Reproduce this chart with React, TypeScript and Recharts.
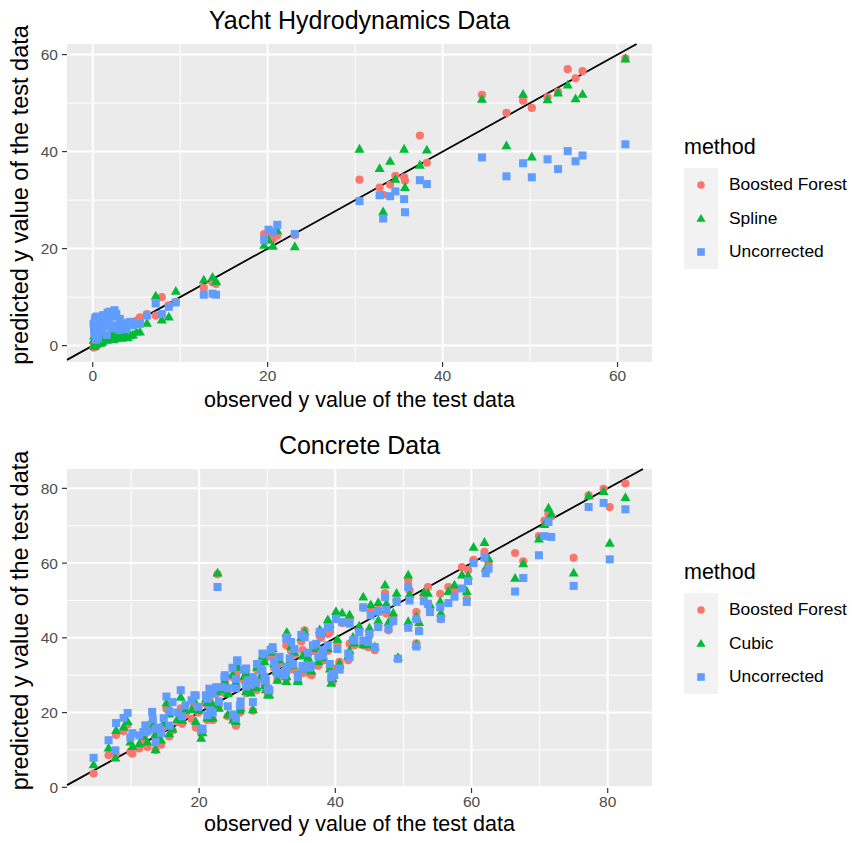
import React from "react";
import { ScatterChart, Scatter, XAxis, YAxis, CartesianGrid, ReferenceLine, Label } from "recharts";

const FONT = '"Liberation Sans", Arial, Helvetica, sans-serif';
const RED = "#F8766D";
const GREEN = "#00BA38";
const BLUE = "#619CFF";

// ---- Yacht hydrodynamics: observed value of each test row, then the three predictions
const yachtObs = [
  0.1, 0.2, 0.3, 0.4, 0.5, 0.6, 0.8, 1.0, 1.1, 1.3,
  1.5, 1.7, 2.0, 2.2, 2.5, 2.8, 3.0, 3.3, 3.6, 4.0,
  4.3, 4.6, 5.0, 5.4, 6.2, 7.2, 7.9, 8.7, 9.5, 12.7,
  13.7, 14.1, 19.6, 20.1, 20.6, 21.1, 23.1, 30.5, 32.8, 33.2,
  34.0, 34.6, 35.6, 35.7, 37.4, 38.2, 44.5, 47.3, 49.2, 50.2,
  52.0, 53.2, 54.3, 55.2, 56.0, 60.9, 0.15, 0.25, 0.35, 0.7,
  0.9, 1.2, 1.6, 1.9, 2.4, 2.7, 3.1, 3.8,
];
const yachtBoosted = [
  -0.4, 0.0, 0.3, -0.2, 0.6, 0.5, 1.0, 0.8, 1.3, 1.5,
  1.6, 2.0, 2.1, 2.4, 2.6, 2.9, 3.2, 3.3, 3.8, 4.0,
  4.4, 4.8, 5.1, 5.8, 6.5, 6.2, 10.0, 8.3, 9.0, 11.9,
  13.0, 12.7, 23.0, 22.5, 22.0, 22.7, 22.8, 34.2, 32.6, 31.1,
  33.2, 35.0, 34.7, 34.0, 43.3, 37.7, 51.7, 48.0, 50.5, 49.0,
  51.2, 52.3, 57.0, 55.1, 56.6, 59.2, 0.2, 0.1, 0.5, 0.9,
  0.7, 1.4, 1.9, 2.2, 2.3, 3.0, 3.4, 3.6,
];
const yachtSpline = [
  1.0, -0.3, 0.5, 0.2, 0.8, 0.4, 0.9, 1.2, 0.6, 1.5,
  5.5, 1.2, 1.6, 1.8, 2.0, 1.4, 1.7, 1.4, 2.3, 1.5,
  2.0, 2.1, 2.7, 2.7, 4.5, 10.1, 5.2, 5.8, 11.1, 13.4,
  14.0, 13.1, 20.6, 21.6, 20.4, 23.6, 20.3, 40.4, 36.4, 27.5,
  37.9, 34.2, 40.4, 32.5, 37.1, 40.2, 50.7, 41.1, 51.7, 38.8,
  50.6, 52.0, 53.6, 50.8, 51.7, 59.0, 1.9, 0.3, 0.1, 0.6,
  0.4, 0.9, 1.0, 1.3, 1.1, 1.7, 2.2, 1.9,
];
const yachtUncorrected = [
  4.5, 2.5, 5.8, 3.5, 6.0, 1.5, 4.8, 5.5, 3.0, 4.0,
  5.2, 6.8, 7.0, 3.6, 7.3, 4.2, 3.2, 4.5, 3.8, 4.7,
  4.9, 4.2, 4.5, 4.5, 6.2, 8.7, 6.5, 8.0, 8.9, 10.5,
  10.7, 10.5, 21.8, 23.9, 23.4, 24.9, 23.0, 29.8, 31.0, 26.2,
  30.8, 31.8, 30.2, 27.5, 34.1, 33.3, 38.8, 34.9, 37.6, 34.7,
  38.4, 36.4, 40.1, 38.0, 39.2, 41.5, 3.0, 5.2, 1.2, 3.8,
  5.9, 6.3, 2.2, 5.0, 6.0, 6.5, 5.5, 3.4,
];

// ---- Concrete: observed value of each test row, then the three predictions
const concreteObs = [
  4.5, 6.7, 7.7, 7.8, 8.9, 9.5, 9.9, 10.2, 11.2, 12.1,
  12.4, 13.1, 13.2, 13.6, 13.6, 14.1, 14.4, 15.2, 15.6, 15.6,
  16.1, 17.3, 17.5, 18.9, 19.3, 19.5, 20.3, 21.0, 21.2, 21.6,
  22.7, 22.0, 23.7, 24.2, 24.9, 25.4, 25.4, 25.6, 26.0, 26.6,
  27.1, 27.6, 27.9, 29.1, 29.6, 29.6, 30.1, 30.8, 31.5, 31.8,
  32.5, 32.8, 32.8, 33.5, 34.5, 35.2, 35.5, 36.5, 37.2, 37.7,
  38.2, 38.9, 38.9, 39.2, 39.4, 39.8, 40.1, 40.6, 40.6, 41.0,
  42.1, 42.1, 42.8, 44.1, 44.1, 44.8, 45.2, 45.8, 46.3, 46.3,
  47.3, 47.5, 47.8, 49.0, 49.2, 50.7, 50.7, 50.9, 51.9, 51.9,
  52.3, 53.6, 53.9, 55.4, 55.5, 56.6, 58.6, 59.3, 59.5, 60.3,
  61.9, 62.5, 62.1, 66.4, 67.6, 69.9, 70.7, 71.3, 71.7, 75.0,
  77.2, 79.4, 80.3, 82.6, 29.3, 30.5, 32.9, 35.0, 36.7, 37.9,
  39.2, 36.2, 32.8, 34.5, 30.3, 29.8, 26.9, 27.9, 25.6, 23.8,
  25.4, 25.0, 26.1, 26.9, 21.5, 22.5, 23.4, 20.5, 22.0, 19.9,
  22.9, 21.2, 24.2, 28.4, 29.3, 31.3, 35.2, 38.2, 39.6, 41.9,
  42.6, 33.3, 34.0, 36.0, 31.0, 28.5, 33.8, 37.5, 16.8, 18.0,
  11.8, 14.8, 43.5, 45.0, 48.5, 53.0, 57.5, 40.3,
];
const concreteBoosted = [
  3.7, 8.6, 8.8, 14.0, 15.0, 16.8, 9.5, 9.0, 10.4, 14.5,
  10.8, 17.0, 15.5, 10.0, 13.5, 14.5, 11.4, 21.0, 20.6, 13.6,
  15.2, 21.1, 17.0, 18.3, 22.0, 16.0, 14.5, 22.5, 18.0, 19.5,
  57.0, 21.5, 27.5, 19.0, 29.5, 16.5, 29.1, 31.5, 20.0, 28.5,
  26.0, 26.8, 20.5, 29.0, 34.0, 27.5, 25.0, 35.5, 28.8, 33.0,
  31.0, 38.0, 29.0, 36.5, 30.5, 36.7, 42.0, 30.0, 37.0, 40.5,
  34.0, 41.0, 36.5, 32.2, 28.8, 31.8, 45.0, 33.3, 33.6, 44.0,
  45.0, 38.4, 38.0, 48.0, 38.0, 37.5, 47.0, 36.7, 47.5, 43.0,
  52.0, 46.5, 42.0, 50.0, 34.5, 55.5, 43.0, 52.7, 38.5, 46.9,
  42.0, 53.6, 47.0, 51.8, 45.0, 53.6, 58.9, 50.5, 58.1, 60.9,
  63.0, 59.9, 58.0, 62.7, 60.5, 67.2, 71.4, 73.2, 72.5, 61.4,
  78.1, 79.9, 75.0, 81.3, 33.5, 35.0, 39.0, 39.0, 36.5, 40.0,
  41.5, 30.4, 31.0, 29.5, 25.5, 27.0, 30.0, 28.0, 31.0, 28.5,
  26.8, 18.0, 21.5, 25.2, 24.0, 25.0, 25.5, 15.0, 18.0, 20.0,
  21.9, 22.0, 25.1, 26.0, 30.0, 30.5, 30.6, 34.0, 28.2, 34.0,
  38.5, 33.0, 35.5, 34.0, 32.0, 31.5, 31.5, 32.5, 17.5, 19.5,
  12.5, 16.0, 42.0, 41.0, 45.0, 50.5, 52.5, 38.5,
];
const concreteCubic = [
  5.9, 10.4, 7.7, 15.1, 16.0, 17.5, 12.0, 10.8, 11.5, 15.2,
  12.0, 18.0, 16.3, 9.9, 14.0, 14.8, 12.5, 22.4, 19.5, 14.2,
  15.5, 24.0, 17.8, 20.6, 23.0, 17.5, 13.0, 23.5, 18.4, 18.4,
  57.2, 22.0, 28.0, 19.3, 30.0, 17.5, 28.0, 32.0, 20.5, 29.5,
  27.0, 25.1, 20.6, 29.5, 33.5, 27.0, 24.6, 37.0, 28.5, 34.0,
  30.5, 41.1, 28.2, 37.5, 28.2, 35.0, 41.5, 31.0, 37.5, 42.0,
  34.5, 44.7, 37.0, 31.5, 27.7, 30.0, 46.9, 32.5, 33.0, 46.5,
  46.0, 36.5, 38.5, 50.8, 38.0, 38.0, 48.7, 37.5, 49.3, 44.5,
  54.0, 49.0, 44.0, 51.8, 34.6, 56.7, 44.2, 51.5, 38.0, 45.5,
  44.0, 51.8, 48.7, 49.6, 46.5, 52.3, 56.7, 52.3, 56.5, 64.1,
  65.4, 61.0, 58.5, 55.8, 59.7, 66.3, 70.2, 74.6, 73.0, 57.2,
  77.8, 79.0, 65.2, 77.4, 35.0, 36.0, 41.3, 40.0, 37.0, 41.5,
  43.5, 31.5, 29.5, 28.6, 24.6, 26.0, 30.5, 28.5, 32.5, 28.0,
  27.5, 17.9, 21.1, 25.5, 25.1, 25.5, 26.0, 14.5, 18.4, 20.5,
  21.0, 22.5, 25.0, 26.5, 30.5, 31.0, 31.5, 35.0, 29.0, 35.0,
  40.0, 33.5, 36.0, 34.5, 33.0, 32.0, 32.5, 33.5, 18.0, 20.5,
  13.5, 17.0, 43.0, 42.5, 46.5, 52.0, 54.0, 39.5,
];
const concreteUncorrected = [
  7.9, 12.6, 9.9, 17.2, 18.6, 19.9, 13.3, 14.5, 13.9, 16.6,
  15.0, 20.2, 18.2, 12.1, 15.7, 16.0, 14.5, 24.3, 20.3, 16.5,
  22.8, 26.0, 19.0, 23.3, 24.6, 24.6, 15.4, 24.6, 19.3, 20.6,
  53.6, 25.1, 29.5, 21.7, 32.0, 18.5, 26.5, 33.8, 21.9, 31.5,
  28.6, 27.5, 22.8, 31.3, 35.6, 29.5, 26.4, 37.5, 30.5, 34.9,
  30.0, 39.8, 31.0, 38.9, 29.5, 31.8, 40.2, 32.6, 38.4, 41.6,
  35.3, 42.9, 38.0, 33.0, 29.5, 30.0, 45.1, 31.5, 31.8, 44.2,
  43.8, 34.9, 39.5, 48.2, 39.3, 38.9, 46.0, 37.5, 47.0, 42.9,
  50.9, 47.5, 42.5, 49.6, 34.4, 53.6, 42.7, 50.0, 37.7, 45.0,
  41.8, 49.1, 46.9, 48.2, 45.1, 49.3, 53.2, 49.6, 55.2, 60.0,
  61.5, 58.5, 57.3, 52.4, 56.0, 62.1, 67.2, 71.0, 67.0, 53.9,
  75.0, 76.1, 61.0, 74.4, 35.8, 36.8, 40.2, 40.8, 38.0, 41.1,
  42.9, 32.0, 32.2, 30.0, 26.0, 28.6, 31.8, 29.5, 34.0, 30.0,
  29.0, 19.5, 23.0, 27.0, 26.4, 26.8, 26.8, 15.7, 20.0, 21.5,
  23.0, 23.7, 26.5, 28.0, 31.3, 31.8, 32.5, 36.7, 30.4, 35.8,
  39.3, 34.5, 37.0, 36.0, 33.5, 33.0, 33.0, 35.0, 20.0, 22.0,
  14.8, 18.5, 41.5, 41.0, 44.5, 49.8, 51.0, 37.0,
];

const yachtXTicks = [0, 20, 40, 60];
const yachtYTicks = [0, 20, 40, 60];
const yachtMinor = [10, 30, 50];
const concreteXTicks = [20, 40, 60, 80];
const concreteYTicks = [0, 20, 40, 60, 80];
const concreteMinor = [10, 30, 50, 70];

// ggplot-style 5% expansion
function expand(vals: number[]): [number, number] {
  const lo = Math.min(...vals);
  const hi = Math.max(...vals);
  const pad = (hi - lo) * 0.05;
  return [lo - pad, hi + pad];
}

const CircleDot = (p: any) => <circle cx={p.cx} cy={p.cy} r={4.1} fill={RED} />;
const TriangleDot = (p: any) => {
  const { cx, cy } = p;
  return (
    <polygon
      points={`${cx},${cy - 5.8} ${cx - 5},${cy + 3} ${cx + 5},${cy + 3}`}
      fill={GREEN}
    />
  );
};
const SquareDot = (p: any) => <rect x={p.cx - 4} y={p.cy - 4} width={8} height={8} fill={BLUE} />;

const tickStyle = { fill: "#4D4D4D", fontSize: 15.5, fontFamily: FONT };

function LegendBox({ top, second }: { top: number; second: string }) {
  const rows = [
    { label: "Boosted Forest", shape: "circle" },
    { label: second, shape: "triangle" },
    { label: "Uncorrected", shape: "square" },
  ];
  return (
    <div style={{ position: "absolute", left: 684, top, fontFamily: FONT }}>
      <div style={{ fontSize: 21.5, height: 36, lineHeight: "30px", color: "#000" }}>method</div>
      {rows.map((r) => (
        <div key={r.label} style={{ display: "flex", alignItems: "center", height: 33.5 }}>
          <svg width={34} height={33.5} style={{ background: "#F2F2F2", display: "block" }}>
            {r.shape === "circle" && <circle cx={17} cy={17} r={3.8} fill={RED} />}
            {r.shape === "triangle" && <polygon points="17,12 12.4,19.8 21.6,19.8" fill={GREEN} />}
            {r.shape === "square" && <rect x={13.2} y={13.2} width={7.6} height={7.6} fill={BLUE} />}
          </svg>
          <span style={{ marginLeft: 11, fontSize: 17.4, color: "#000" }}>{r.label}</span>
        </div>
      ))}
    </div>
  );
}

interface PanelProps {
  title: string;
  obs: number[];
  boosted: number[];
  second: number[];
  uncorrected: number[];
  secondName: string;
  xTicks: number[];
  yTicks: number[];
  minor: number[];
  height: number;
  plotTop: number;
  plotBottom: number;
  titleY: number;
  legendTop: number;
  xLabelOffset: number;
}

function Panel(props: PanelProps) {
  const { obs, boosted, second, uncorrected } = props;
  const bData = obs.map((x, i) => ({ x, y: boosted[i] }));
  const sData = obs.map((x, i) => ({ x, y: second[i] }));
  const uData = obs.map((x, i) => ({ x, y: uncorrected[i] }));
  const xDom = expand(obs);
  const yDom = expand([...boosted, ...second, ...uncorrected]);
  const lo = Math.max(xDom[0], yDom[0]);
  const hi = Math.min(xDom[1], yDom[1]);

  return (
    <div style={{ position: "relative", width: 852, height: props.height }}>
      <div
        style={{
          position: "absolute",
          left: 67,
          width: 585,
          top: props.titleY - 16,
          height: 32,
          lineHeight: "32px",
          textAlign: "center",
          fontFamily: FONT,
          fontSize: 25,
          color: "#000",
        }}
      >
        {props.title}
      </div>
      <ScatterChart
        width={852}
        height={props.height}
        margin={{ top: props.plotTop, right: 200, bottom: 0, left: 0 }}
      >
        <CartesianGrid
          fill="#EBEBEB"
          stroke="#FFFFFF"
          strokeWidth={1}
          horizontalValues={props.minor}
          verticalValues={props.minor}
        />
        <CartesianGrid
          stroke="#FFFFFF"
          strokeWidth={2}
          horizontalValues={props.yTicks}
          verticalValues={props.xTicks}
        />
        <XAxis
          type="number"
          dataKey="x"
          domain={xDom}
          allowDataOverflow
          ticks={props.xTicks}
          interval={0}
          height={props.height - props.plotBottom}
          tickSize={5}
          tickMargin={3}
          axisLine={false}
          tickLine={{ stroke: "#333333", strokeWidth: 1.2 }}
          tick={tickStyle}
        >
          <Label
            value="observed y value of the test data"
            position="insideBottom"
            offset={props.xLabelOffset}
            style={{ fontSize: 21.5, fill: "#000", fontFamily: FONT }}
          />
        </XAxis>
        <YAxis
          type="number"
          dataKey="y"
          domain={yDom}
          allowDataOverflow
          ticks={props.yTicks}
          interval={0}
          width={67}
          tickSize={5}
          tickMargin={4}
          axisLine={false}
          tickLine={{ stroke: "#333333", strokeWidth: 1.2 }}
          tick={tickStyle}
        >
          <Label
            content={(lp: any) => {
              const vb = lp.viewBox || { x: 0, y: props.plotTop, height: props.plotBottom - props.plotTop };
              const cx = vb.x + 20;
              const cy = vb.y + vb.height / 2 - 8;
              return (
                <text
                  x={cx}
                  y={cy}
                  transform={`rotate(-90, ${cx}, ${cy})`}
                  textAnchor="middle"
                  dominantBaseline="central"
                  style={{ fontSize: 23.5, fill: "#000", fontFamily: FONT }}
                >
                  predicted y value of the test data
                </text>
              );
            }}
          />
        </YAxis>
        <Scatter name="Boosted Forest" data={bData} shape={CircleDot} isAnimationActive={false} />
        <Scatter name={props.secondName} data={sData} shape={TriangleDot} isAnimationActive={false} />
        <Scatter name="Uncorrected" data={uData} shape={SquareDot} isAnimationActive={false} />
        <ReferenceLine
          segment={[{ x: lo, y: lo }, { x: hi, y: hi }]}
          stroke="#000000"
          strokeWidth={1.8}
          ifOverflow="visible"
        />
      </ScatterChart>
      <LegendBox top={props.legendTop} second={props.secondName} />
    </div>
  );
}

export default function App() {
  return (
    <div style={{ position: "absolute", left: 0, top: 0, width: 852, height: 843, background: "#fff" }}>
      <Panel
        title="Yacht Hydrodynamics Data"
        obs={yachtObs}
        boosted={yachtBoosted}
        second={yachtSpline}
        uncorrected={yachtUncorrected}
        secondName="Spline"
        xTicks={yachtXTicks}
        yTicks={yachtYTicks}
        minor={yachtMinor}
        height={421}
        plotTop={44}
        plotBottom={362}
        titleY={20}
        legendTop={132}
        xLabelOffset={14}
      />
      <Panel
        title="Concrete Data"
        obs={concreteObs}
        boosted={concreteBoosted}
        second={concreteCubic}
        uncorrected={concreteUncorrected}
        secondName="Cubic"
        xTicks={concreteXTicks}
        yTicks={concreteYTicks}
        minor={concreteMinor}
        height={422}
        plotTop={48}
        plotBottom={367}
        titleY={24}
        legendTop={136}
        xLabelOffset={12}
      />
    </div>
  );
}
